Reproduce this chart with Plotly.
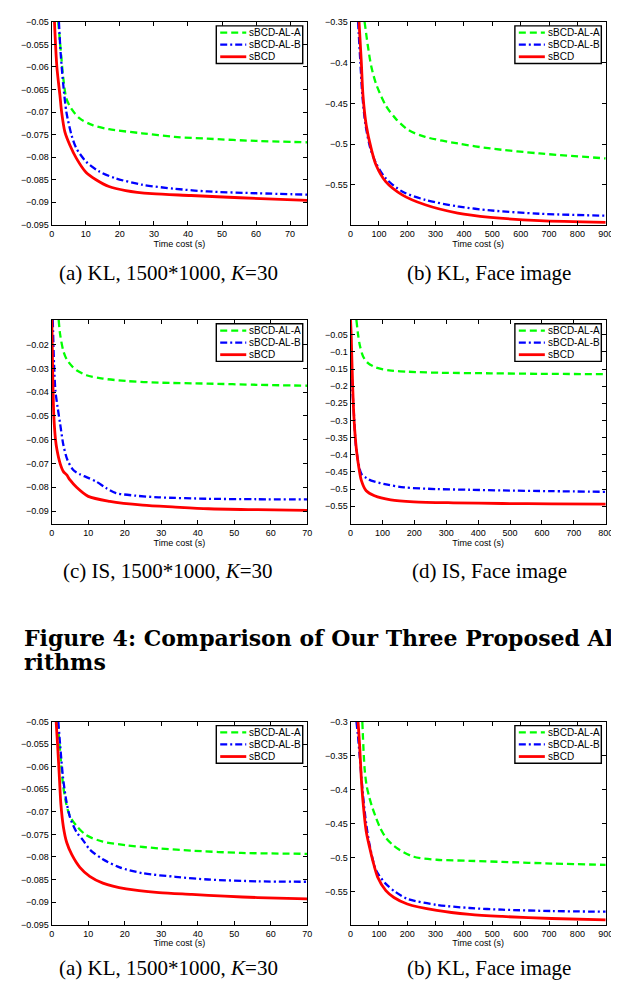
import plotly.graph_objects as go

W, H = 619, 981

# ---------------- data ----------------
series_names = ["sBCD-AL-A", "sBCD-AL-B", "sBCD"]
x_label = "Time cost (s)"

captions = [
    "(a) KL, 1500*1000, <i>K</i>=30", "(b) KL, Face image",
    "(c) IS, 1500*1000, <i>K</i>=30", "(d) IS, Face image",
    "(a) KL, 1500*1000, <i>K</i>=30", "(b) KL, Face image",
]
heading_lines = ["Figure 4: Comparison of Our Three Proposed Al", "rithms"]

# Panel 1: KL, 1500*1000, K=30 (top)
p1_green_x = [1.9, 2.6, 3.4, 4.3, 5.8, 8.2, 12, 16.8, 26.5, 36.1, 45.7, 60.2, 75]
p1_green_y = [-0.05, -0.056, -0.0626, -0.067, -0.0693, -0.0714, -0.0729, -0.0738, -0.0747, -0.0755, -0.0759, -0.0764, -0.0767]
p1_blue_x = [2.1, 2.6, 3.4, 4.3, 5.8, 7.2, 10.1, 14, 18.8, 26.5, 36.1, 45.7, 60.2, 75]
p1_blue_y = [-0.05, -0.0568, -0.0641, -0.07, -0.0751, -0.078, -0.081, -0.0832, -0.0847, -0.0861, -0.087, -0.0876, -0.088, -0.0883]
p1_red_x = [0.8, 1.5, 2.4, 2.9, 3.85, 5.3, 7.2, 10.1, 13, 16.8, 21.7, 29.4, 40.9, 55.3, 75]
p1_red_y = [-0.05, -0.060, -0.0663, -0.070, -0.0744, -0.0773, -0.0802, -0.0834, -0.085, -0.0865, -0.0874, -0.0881, -0.0885, -0.089, -0.0896]

# Panel 2: KL, Face image (top)
p2_green_x = [49.5, 53, 61, 72.6, 89.9, 124, 159, 205, 263, 378, 493, 666, 900]
p2_green_y = [-0.35, -0.359, -0.3793, -0.4037, -0.426, -0.4524, -0.4687, -0.4829, -0.4911, -0.4992, -0.5053, -0.5114, -0.5175]
p2_blue_x = [26.5, 34.6, 41.5, 53, 70, 89.9, 124, 182, 263, 378, 493, 666, 900]
p2_blue_y = [-0.35, -0.3996, -0.44, -0.4768, -0.5053, -0.5236, -0.5419, -0.5581, -0.5683, -0.5764, -0.5813, -0.5854, -0.5878]
p2_red_x = [30, 38, 43.8, 55.3, 72.6, 89.9, 124, 182, 263, 378, 493, 666, 900]
p2_red_y = [-0.35, -0.3996, -0.4402, -0.4768, -0.5053, -0.5256, -0.546, -0.5622, -0.5744, -0.5846, -0.5898, -0.5939, -0.596]

# Panel 3: IS, 1500*1000, K=30
p3_green_x = [1.9, 2.3, 3.2, 4.1, 5.5, 6.8, 9.5, 14, 20.3, 29.3, 42.8, 56.2, 70]
p3_green_y = [-0.0096, -0.0158, -0.0228, -0.0262, -0.029, -0.0308, -0.0329, -0.0343, -0.0353, -0.036, -0.0364, -0.0369, -0.0373]
p3_blue_x = [0.27, 0.63, 1.0, 1.6, 2.3, 3.2, 4.3, 5.9, 7.7, 9.5, 12.2, 14.9, 17.6, 23, 29.3, 42.8, 56.2, 70]
p3_blue_y = [-0.0096, -0.0283, -0.0394, -0.0463, -0.0533, -0.0623, -0.0685, -0.0727, -0.0745, -0.0757, -0.0776, -0.0803, -0.0824, -0.0835, -0.0842, -0.0848, -0.085, -0.0851]
p3_red_x = [0.0, 0.15, 0.3, 0.45, 0.6, 1.0, 1.4, 2.3, 3.2, 4.1, 5.0, 6.8, 10, 15.9, 24.9, 33.9, 42.9, 56.4, 70]
p3_red_y = [-0.008, -0.022, -0.035, -0.045, -0.051, -0.0595, -0.064, -0.07, -0.0734, -0.0748, -0.0769, -0.08, -0.0838, -0.0859, -0.0875, -0.0883, -0.089, -0.0894, -0.0897]

# Panel 4: IS, Face image
p4_green_x = [18.4, 23.6, 28.7, 39, 54, 80, 121, 182, 285, 439, 592, 800]
p4_green_y = [-0.007, -0.05, -0.079, -0.1125, -0.132, -0.146, -0.154, -0.158, -0.161, -0.1625, -0.164, -0.165]
p4_blue_x = [0, 3, 6, 10, 16, 23, 34, 50, 65, 116, 168, 270, 373, 476, 630, 800]
p4_blue_y = [-0.005, -0.137, -0.213, -0.271, -0.367, -0.415, -0.456, -0.468, -0.4755, -0.487, -0.495, -0.500, -0.502, -0.504, -0.506, -0.508]
p4_red_x = [0, 2, 5, 9, 14, 19, 26, 34, 49, 75, 126, 198, 322, 476, 630, 800]
p4_red_y = [-0.005, -0.05, -0.15, -0.26, -0.34, -0.39, -0.437, -0.4755, -0.505, -0.5196, -0.5314, -0.537, -0.540, -0.542, -0.543, -0.544]

# Panel 5: KL, 1500*1000, K=30 (bottom)
p5_green_x = [1.6, 2.3, 3.1, 4.0, 5.0, 6.8, 9.5, 14, 20.4, 29.4, 38.4, 51.9, 70]
p5_green_y = [-0.05, -0.0567, -0.064, -0.0683, -0.071, -0.0731, -0.0752, -0.0766, -0.0774, -0.0781, -0.0786, -0.0791, -0.0793]
p5_blue_x = [1.8, 2.3, 3.1, 4.0, 5.0, 6.8, 8.5, 10.5, 14, 18.6, 24.9, 33.9, 42.9, 56.4, 70]
p5_blue_y = [-0.05, -0.0552, -0.0625, -0.0676, -0.0712, -0.0745, -0.0762, -0.0784, -0.0805, -0.0823, -0.0836, -0.0844, -0.085, -0.0854, -0.0855]
p5_red_x = [1.2, 1.6, 2.1, 2.5, 3.2, 4.1, 5.5, 7.7, 10.4, 14, 20.4, 29.4, 38.4, 47.4, 56.4, 70]
p5_red_y = [-0.05, -0.0552, -0.0625, -0.0683, -0.0734, -0.0768, -0.0795, -0.0823, -0.0843, -0.0858, -0.0871, -0.0879, -0.0883, -0.0887, -0.089, -0.0893]

# Panel 6: KL, Face image (bottom)
p6_green_x = [41.5, 49.5, 57, 66.8, 78, 89.9, 105, 124.5, 150, 177, 223, 304, 420, 535, 709, 900]
p6_green_y = [-0.3, -0.369, -0.395, -0.4126, -0.428, -0.4417, -0.457, -0.471, -0.482, -0.490, -0.499, -0.5034, -0.505, -0.5066, -0.509, -0.511]
p6_blue_x = [20.7, 26, 32, 43.8, 55, 66.8, 89.9, 124.5, 159, 200, 304, 420, 535, 709, 900]
p6_blue_y = [-0.3, -0.32, -0.35, -0.408, -0.45, -0.4806, -0.519, -0.539, -0.551, -0.561, -0.570, -0.5745, -0.577, -0.579, -0.580]
p6_red_x = [26.5, 32, 38, 43.8, 55, 67, 78.7, 95.6, 124.5, 153, 200, 304, 420, 535, 709, 900]
p6_red_y = [-0.3, -0.335, -0.3835, -0.4175, -0.461, -0.485, -0.505, -0.529, -0.549, -0.559, -0.5686, -0.578, -0.584, -0.587, -0.590, -0.592]

# axis ranges and ticks
p1_xrange = [0, 75];  p1_xticks = [0, 10, 20, 30, 40, 50, 60, 70]
p1_yrange = [-0.095, -0.05]
p1_yticks = [-0.095, -0.09, -0.085, -0.08, -0.075, -0.07, -0.065, -0.06, -0.055, -0.05]
p2_xrange = [0, 900];  p2_xticks = [0, 100, 200, 300, 400, 500, 600, 700, 800, 900]
p2_yrange = [-0.599, -0.35]
p2_yticks = [-0.55, -0.5, -0.45, -0.4, -0.35]
p3_xrange = [0, 70];  p3_xticks = [0, 10, 20, 30, 40, 50, 60, 70]
p3_yrange = [-0.0953, -0.0096]
p3_yticks = [-0.09, -0.08, -0.07, -0.06, -0.05, -0.04, -0.03, -0.02]
p4_xrange = [0, 800];  p4_xticks = [0, 100, 200, 300, 400, 500, 600, 700, 800]
p4_yrange = [-0.601, -0.0067]
p4_yticks = [-0.55, -0.5, -0.45, -0.4, -0.35, -0.3, -0.25, -0.2, -0.15, -0.1, -0.05]
p5_xrange = [0, 70];  p5_xticks = [0, 10, 20, 30, 40, 50, 60, 70]
p5_yrange = [-0.095, -0.05]
p5_yticks = [-0.095, -0.09, -0.085, -0.08, -0.075, -0.07, -0.065, -0.06, -0.055, -0.05]
p6_xrange = [0, 900];  p6_xticks = [0, 100, 200, 300, 400, 500, 600, 700, 800, 900]
p6_yrange = [-0.599, -0.3]
p6_yticks = [-0.55, -0.5, -0.45, -0.4, -0.35, -0.3]

# ---------------- styling / layout ----------------
colors = ["#00ff00", "#0000ff", "#ff0000"]
dashes = ["7px,4px", "7px,3px,2px,3px", "solid"]
widths = [2.3, 2.3, 2.8]

# plot boxes in pixels: (left, right, top, bottom)
col_px = [(41.5, 301.5), (345.7, 605.5)]
row_px = [(9, 214), (310, 516), (716, 921)]
caption_y = [263, 564, 965]
caption_cx = [160, 487]

def px(xp):
    return xp / W

def py(yp):
    return 1 - yp / H

panels = [
    (p1_green_x, p1_green_y, p1_blue_x, p1_blue_y, p1_red_x, p1_red_y, p1_xrange, p1_xticks, p1_yrange, p1_yticks),
    (p2_green_x, p2_green_y, p2_blue_x, p2_blue_y, p2_red_x, p2_red_y, p2_xrange, p2_xticks, p2_yrange, p2_yticks),
    (p3_green_x, p3_green_y, p3_blue_x, p3_blue_y, p3_red_x, p3_red_y, p3_xrange, p3_xticks, p3_yrange, p3_yticks),
    (p4_green_x, p4_green_y, p4_blue_x, p4_blue_y, p4_red_x, p4_red_y, p4_xrange, p4_xticks, p4_yrange, p4_yticks),
    (p5_green_x, p5_green_y, p5_blue_x, p5_blue_y, p5_red_x, p5_red_y, p5_xrange, p5_xticks, p5_yrange, p5_yticks),
    (p6_green_x, p6_green_y, p6_blue_x, p6_blue_y, p6_red_x, p6_red_y, p6_xrange, p6_xticks, p6_yrange, p6_yticks),
]

def fmt(v):
    return f"{v:g}".replace("-", "\u2212")

tick_font = dict(family="Liberation Sans, Arial, sans-serif", size=9, color="black")
fig = go.Figure()
layout = {}
shapes = []
annotations = []

for i, pdata in enumerate(panels):
    gx, gy, bx, by, rx, ry, xr, xt, yr, yt = pdata
    r, c = divmod(i, 2)
    L, R = col_px[c]
    T, B = row_px[r]
    sfx = "" if i == 0 else str(i + 1)
    xa, ya = "x" + sfx, "y" + sfx
    for (xs, ys), name, col, dsh, wd in zip([(gx, gy), (bx, by), (rx, ry)], series_names, colors, dashes, widths):
        fig.add_trace(go.Scatter(
            x=xs, y=ys, mode="lines", name=name, showlegend=False,
            line=dict(color=col, width=wd, dash=dsh, shape="spline", smoothing=0.8),
            xaxis=xa, yaxis=ya,
        ))
    layout["xaxis" + sfx] = dict(
        domain=[px(L), px(R)], anchor=ya, range=xr,
        tickmode="array", tickvals=xt, ticktext=[fmt(v) for v in xt],
        ticks="inside", ticklen=4, tickcolor="black", tickwidth=1,
        showline=True, linecolor="black", linewidth=1.2, mirror="ticks",
        showgrid=False, zeroline=False, tickfont=tick_font,
        title=dict(text=x_label, font=tick_font, standoff=2),
    )
    layout["yaxis" + sfx] = dict(
        domain=[py(B), py(T)], anchor=xa, range=yr,
        tickmode="array", tickvals=yt, ticktext=[fmt(v) for v in yt],
        ticks="inside", ticklen=4, tickcolor="black", tickwidth=1,
        showline=True, linecolor="black", linewidth=1.2, mirror="ticks",
        showgrid=False, zeroline=False, tickfont=tick_font,
    )
    # legend box
    lx0, lx1 = R - 92.5, R - 4.5
    ly0, ly1 = T + 4, T + 42
    shapes.append(dict(type="rect", xref="paper", yref="paper",
                       x0=px(lx0), x1=px(lx1), y0=py(ly1), y1=py(ly0),
                       line=dict(color="black", width=1.4), fillcolor="white", layer="above"))
    for k, (name, col, dsh, wd) in enumerate(zip(series_names, colors, dashes, widths)):
        yy = T + 10.8 + 12.2 * k
        shapes.append(dict(type="line", xref="paper", yref="paper",
                           x0=px(R - 88.5), x1=px(R - 62), y0=py(yy), y1=py(yy),
                           line=dict(color=col, width=wd, dash=dsh), layer="above"))
        annotations.append(dict(xref="paper", yref="paper", x=px(R - 61), y=py(yy),
                                text=name, showarrow=False, xanchor="left", yanchor="middle",
                                font=dict(family="Liberation Sans, Arial, sans-serif", size=10, color="black")))
    # caption
    annotations.append(dict(xref="paper", yref="paper", x=px(caption_cx[c]), y=py(caption_y[r]),
                            text=captions[i], showarrow=False, xanchor="center", yanchor="middle",
                            font=dict(family="Liberation Serif, Times New Roman, serif", size=21, color="black")))

# heading
for k, line in enumerate(heading_lines):
    annotations.append(dict(xref="paper", yref="paper", x=px(11), y=py(631 + 25 * k),
                            text="<b>" + line + "</b>", showarrow=False, xanchor="left", yanchor="middle",
                            font=dict(family="DejaVu Serif, serif", size=22, color="black")))

fig.update_layout(
    width=W, height=H, autosize=False,
    margin=dict(l=0, r=0, t=0, b=0),
    paper_bgcolor="white", plot_bgcolor="white",
    showlegend=False, shapes=shapes, annotations=annotations,
    **layout,
)

fig.write_html("out.html")
